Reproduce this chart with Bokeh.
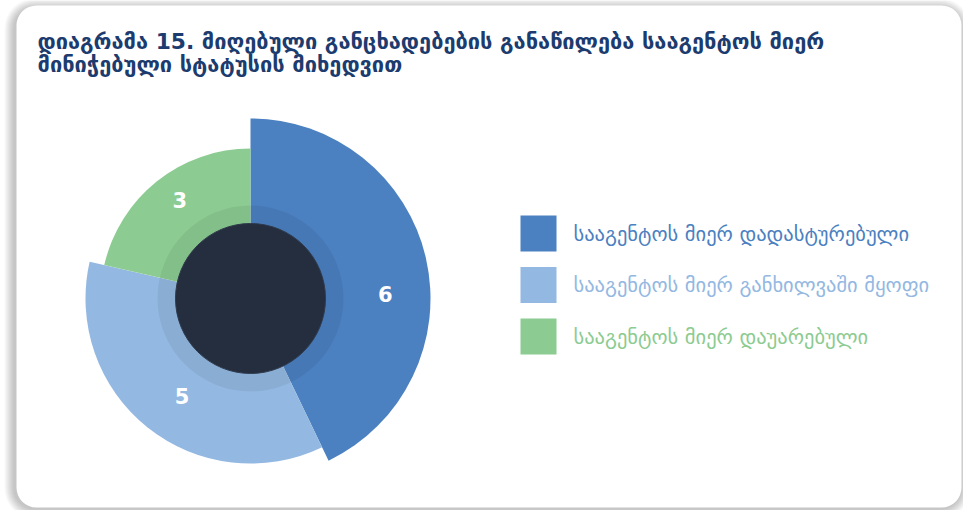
import math
from bokeh.plotting import figure
from bokeh.models import Range1d, BoxAnnotation
from bokeh.core.properties import value
from bokeh.embed import file_html
from bokeh.resources import INLINE

# ---- data ----
title_lines = [
    "დიაგრამა 15. მიღებული განცხადებების განაწილება სააგენტოს მიერ",
    "მინიჭებული სტატუსის მიხედვით",
]
categories = [
    "სააგენტოს მიერ დადასტურებული",
    "სააგენტოს მიერ განხილვაში მყოფი",
    "სააგენტოს მიერ დაუარებული",
]
values = [6, 5, 3]

# ---- styles / layout ----
colors = ["#4b80c1", "#93b8e2", "#8ccb91"]
outer_radii = [180, 165, 150]
title_color = "#1c3b6e"
FONT = "DejaVu Sans"
W, H = 963, 510
OX, OY = 0, 0  # page offset of the figure


def Y(sy):
    # screen y (page px) -> data y
    return (OY + H) - sy


p = figure(width=W, height=H, output_backend="svg", toolbar_location=None,
           x_range=Range1d(OX, OX + W), y_range=Range1d(OY, OY + H),
           min_border=0, outline_line_color=None,
           background_fill_color="white", border_fill_color="white")
p.axis.visible = False
p.grid.visible = False

# card shadow + card
cl, cr, ct, cb = 16, 961, 5, 507
for i in range(1, 11):
    p.add_layout(BoxAnnotation(left=cl - i - 2, right=cr + i - 1, top=Y(ct - i + 3), bottom=Y(cb + i + 1),
                               fill_color="black", fill_alpha=0.022, line_color=None,
                               border_radius=20 + i, level="underlay"))
p.add_layout(BoxAnnotation(left=cl, right=cr, top=Y(ct), bottom=Y(cb), fill_color="white",
                           fill_alpha=1.0, line_color=None, border_radius=20, level="underlay"))

# title
for i, line in enumerate(title_lines):
    p.text(x=[37], y=[Y(41 + i * 23)], text=[line], text_font=value(FONT),
           text_font_size="21.8px", text_font_style="bold", text_color=title_color,
           text_align="left", text_baseline="middle")

# variable-radius pie
cx, cy = 250, Y(298)
total = sum(values)
starts, ends, mids = [], [], []
cum = 0
for v in values:
    a0 = math.pi / 2 - 2 * math.pi * cum / total
    cum += v
    a1 = math.pi / 2 - 2 * math.pi * cum / total
    starts.append(a0)
    ends.append(a1)
    mids.append((a0 + a1) / 2)

p.wedge(x=[cx] * len(values), y=[cy] * len(values), radius=outer_radii,
        start_angle=starts, end_angle=ends, direction="clock",
        fill_color=colors, line_color=None)
p.annulus(x=[cx], y=[cy], inner_radius=75, outer_radius=93,
          fill_color="black", fill_alpha=0.06, line_color=None)
p.circle(x=[cx], y=[cy], radius=75, fill_color="#252e3f", line_color="#2f3a4c", line_width=1)

# data labels
label_r = [135, 119, 121]
label_da = [-0.19, 0.06, -0.05]
lx = [cx + r * math.cos(m + d) for r, m, d in zip(label_r, mids, label_da)]
ly = [cy + r * math.sin(m + d) for r, m, d in zip(label_r, mids, label_da)]
p.text(x=lx, y=ly, text=[str(v) for v in values], text_font=value(FONT),
       text_font_size="21px", text_font_style="bold", text_color="white",
       text_align="center", text_baseline="middle")

# legend
lg_top, lg_step, sq = 215, 51.5, 36
tops = [lg_top + i * lg_step for i in range(len(categories))]
p.quad(left=[520] * len(categories), right=[520 + sq] * len(categories),
       top=[Y(t) for t in tops], bottom=[Y(t + sq) for t in tops],
       fill_color=colors, line_color=None)
p.text(x=[573] * len(categories), y=[Y(t + sq / 2) for t in tops], text=categories,
       text_font=value(FONT), text_font_size="20.5px", text_color=colors,
       text_align="left", text_baseline="middle")

open("out.html", "w").write(file_html(p, INLINE))
